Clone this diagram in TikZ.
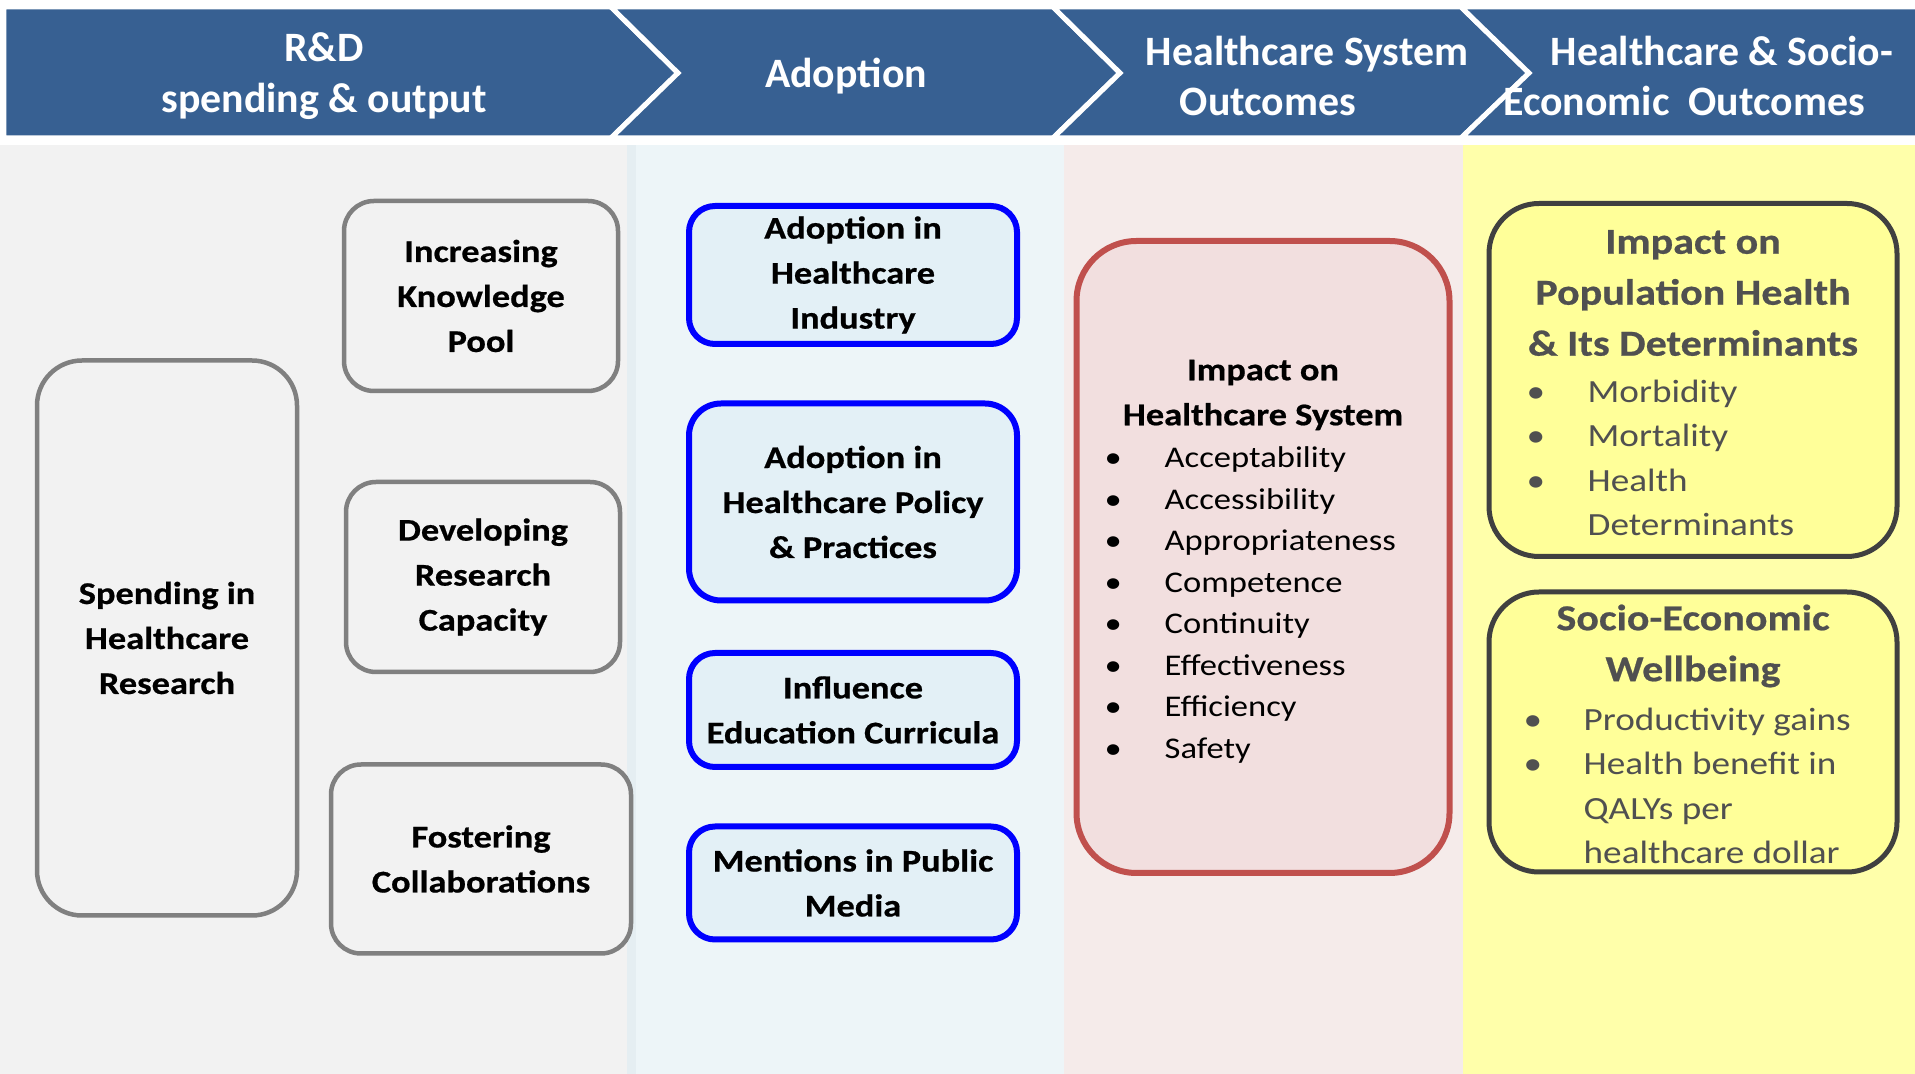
\documentclass[tikz,border=0pt]{standalone}
\usepackage{fontspec}
\usetikzlibrary{positioning}
\newfontfamily\hdfont{Carlito}
\newfontfamily\bxfont[FakeStretch=1.15,BoldFeatures={FakeBold=0.6}]{Carlito}
\newcommand{\hdtext}{\hdfont\bfseries\fontsize{11.9}{14.5}\selectfont}
\newcommand{\bxtitle}{\bxfont\bfseries\fontsize{9}{12.8}\selectfont}
\newcommand{\bxitem}{\bxfont\fontsize{8.55}{11.8}\selectfont}
\newcommand{\yltitle}{\bxfont\bfseries\fontsize{10.4}{14.5}\selectfont}
\newcommand{\ylitem}{\bxfont\fontsize{9.2}{12.6}\selectfont}
\newcommand{\bul}[1]{\makebox[#1][l]{\textbullet}}
\definecolor{hdblue}{RGB}{55,96,146}
\definecolor{colgrey}{RGB}{242,242,242}
\definecolor{colblue}{RGB}{237,245,248}
\definecolor{colstrip}{RGB}{229,238,242}
\definecolor{colpink}{RGB}{245,235,234}
\definecolor{colyellow}{RGB}{255,255,170}
\definecolor{greyline}{RGB}{128,128,128}
\definecolor{bluefill}{RGB}{227,240,246}
\definecolor{redline}{RGB}{192,80,77}
\definecolor{redfill}{RGB}{242,223,223}
\definecolor{yelfill}{RGB}{255,255,153}
\definecolor{darkline}{RGB}{64,64,64}
\definecolor{yeltext}{RGB}{80,80,80}

\begin{document}
\begin{tikzpicture}[x=0.1mm,y=-0.1mm,
  greybox/.style={draw=greyline,line width=0.45mm,rounded corners=3mm,fill=colgrey,align=center,font=\bxtitle,inner sep=0pt},
  bluebox/.style={draw=blue,line width=0.6mm,rounded corners=2.6mm,fill=bluefill,align=center,font=\bxtitle,inner sep=0pt},
  hdlabel/.style={text=white,align=center,font=\hdtext,inner sep=0pt}]
\useasboundingbox (0,0) rectangle (1915,1074);
\fill[white] (0,0) rectangle (1915,1074);

% column backgrounds
\fill[colgrey] (0,145) rectangle (627,1074);
\fill[colstrip] (627,145) rectangle (636,1074);
\fill[colblue] (636,145) rectangle (1064,1074);
\fill[colpink] (1064,145) rectangle (1463,1074);
\fill[colyellow] (1463,145) rectangle (1915,1074);

% header band
\draw[fill=hdblue,draw=white,line width=0.5mm] (4,7) -- (611,7) -- (678,73) -- (611,138) -- (4,138) -- cycle;
\draw[fill=hdblue,draw=white,line width=0.5mm] (611,7) -- (1053,7) -- (1120,73) -- (1053,138) -- (611,138) -- (678,73) -- cycle;
\draw[fill=hdblue,draw=white,line width=0.5mm] (1053,7) -- (1461,7) -- (1529,73) -- (1461,138) -- (1053,138) -- (1120,73) -- cycle;
\draw[fill=hdblue,draw=white,line width=0.5mm] (1461,7) -- (1918,7) -- (1918,138) -- (1461,138) -- (1529,73) -- cycle;
\node[hdlabel] (hdrd) at (324,76) {R\&D\\spending \& output};
\node[hdlabel] (hdadopt) at (846,76) {Adoption};
\node[hdlabel] (hdhcs) at (1307,76) {Healthcare System\\Outcomes\rule{7.8mm}{0pt}};
\node[hdlabel] (hdsocio) at (1722,76) {Healthcare \& Socio-\\Economic~~Outcomes\rule{7.6mm}{0pt}};

% R&D column
\node[greybox,rounded corners=4.5mm,minimum width=26mm,minimum height=55.5mm] (spend) at (167,638) {Spending in\\Healthcare\\Research};
\node[greybox,minimum width=27.4mm,minimum height=19mm] (knowl) at (481,296) {Increasing\\Knowledge\\Pool};
\node[greybox,minimum width=27.4mm,minimum height=19mm] (capac) at (483,577) {Developing\\Research\\Capacity};
\node[greybox,minimum width=30mm,minimum height=18.9mm] (collab) at (481,859) {Fostering\\Collaborations};

% adoption column
\node[bluebox,minimum width=32.8mm,minimum height=13.8mm] (industry) at (853,275) {Adoption in\\Healthcare\\Industry};
\node[bluebox,rounded corners=3.2mm,minimum width=32.8mm,minimum height=19.7mm] (policy) at (853,502) {Adoption in\\Healthcare Policy\\\& Practices};
\node[bluebox,minimum width=32.8mm,minimum height=11.4mm] (curric) at (853,710) {Influence\\Education Curricula};
\node[bluebox,minimum width=32.8mm,minimum height=11.3mm] (media) at (853,883) {Mentions in Public\\Media};

% healthcare system column
\node[draw=redline,line width=0.6mm,rounded corners=6mm,fill=redfill,minimum width=37.3mm,minimum height=63.2mm,inner sep=0pt] (hcs) at (1263,557) {};
\node[align=center,font=\bxtitle,inner sep=0pt] (hcstitle) at (1263,395) {Impact on\\Healthcare System};
\node[align=left,font=\bxitem,anchor=west,inner sep=0pt] (hcslist) at (1104,605) {\bul{6mm}Acceptability\\\bul{6mm}Accessibility\\\bul{6mm}Appropriateness\\\bul{6mm}Competence\\\bul{6mm}Continuity\\\bul{6mm}Effectiveness\\\bul{6mm}Efficiency\\\bul{6mm}Safety};

% socio-economic column
\node[draw=darkline,line width=0.5mm,rounded corners=5mm,fill=yelfill,minimum width=40.8mm,minimum height=35.3mm,inner sep=0pt] (pophealth) at (1693,380) {};
\node[align=center,font=\yltitle,text=yeltext,inner sep=0pt] (poptitle) at (1693,293) {Impact on\\Population Health\\\& Its Determinants};
\node[align=left,font=\ylitem,text=yeltext,anchor=west,inner sep=0pt] (poplist) at (1526,458) {\bul{6.1mm}Morbidity\\\bul{6.1mm}Mortality\\\bul{6.1mm}Health\\\hspace*{6.1mm}Determinants};
\node[draw=darkline,line width=0.5mm,rounded corners=5mm,fill=yelfill,minimum width=40.8mm,minimum height=28mm,inner sep=0pt] (wellbeing) at (1693,732) {};
\node[align=center,font=\yltitle,text=yeltext,inner sep=0pt] (weltitle) at (1693,646) {Socio-Economic\\Wellbeing};
\node[align=left,font=\ylitem,text=yeltext,anchor=west,inner sep=0pt] (wellist) at (1523,786) {\bul{6mm}Productivity gains\\\bul{6mm}Health benefit in\\\hspace*{6mm}QALYs per\\\hspace*{6mm}healthcare dollar};
\end{tikzpicture}
\end{document}
